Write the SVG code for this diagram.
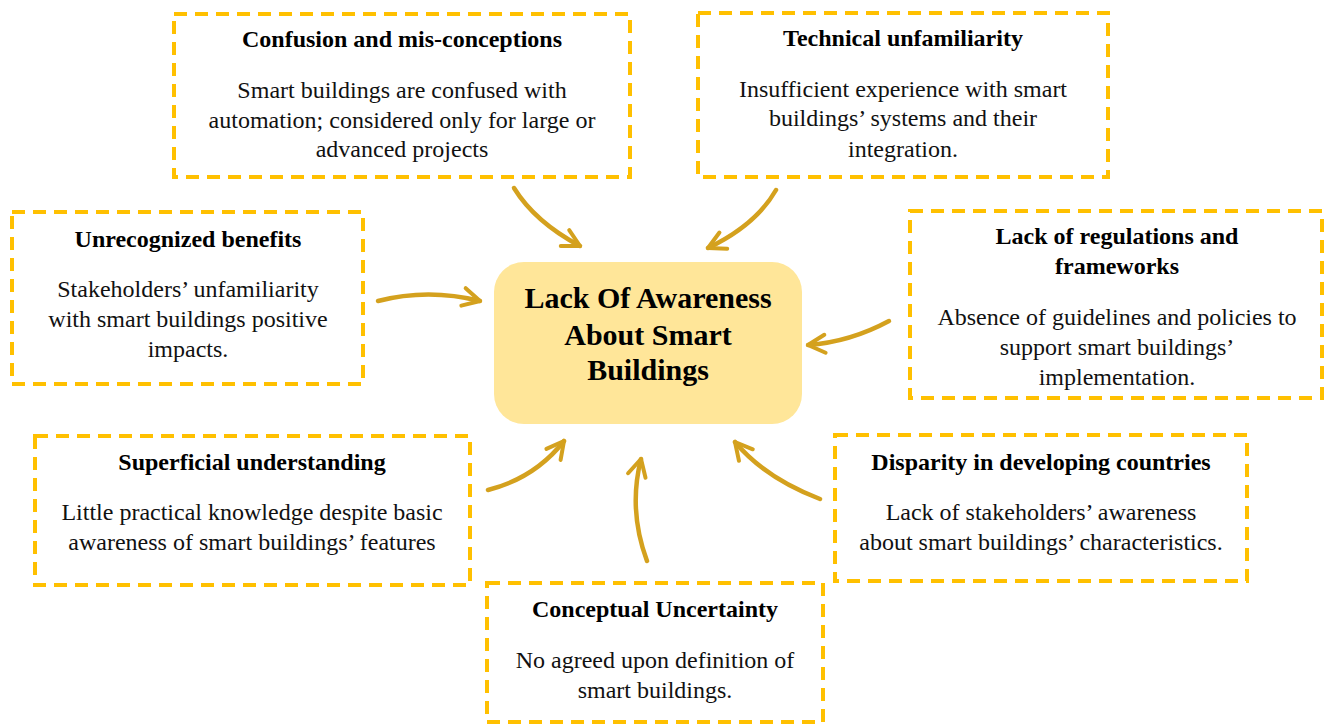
<svg xmlns="http://www.w3.org/2000/svg" width="1325" height="726" viewBox="0 0 1325 726">
  <defs>
    <style>
      .box { fill: #FFFFFF; stroke: #FFC000; stroke-width: 4; stroke-dasharray: 13 8; }
      .title { font-family: 'Liberation Serif', serif; font-weight: bold; font-size: 24px; fill: #000; text-anchor: middle; }
      .body { font-family: 'Liberation Serif', serif; font-size: 24px; fill: #111; text-anchor: middle; }
      .core { font-family: 'Liberation Serif', serif; font-weight: bold; font-size: 30px; fill: #000; text-anchor: middle; }
      .link { fill: none; stroke: #D4A11E; stroke-width: 4.5; stroke-linecap: round; marker-end: url(#head); }
    </style>
    <marker id="head" viewBox="-20 -12 24 24" refX="0" refY="0" markerWidth="24" markerHeight="24" markerUnits="userSpaceOnUse" orient="auto">
      <path d="M-17,-9 L0,0 L-17,9" fill="none" stroke="#D4A11E" stroke-width="4" stroke-linecap="round" stroke-linejoin="round"/>
    </marker>
  </defs>

  <rect width="1325" height="726" fill="#FFFFFF"/>

  <!-- curved connectors pointing at the central topic -->
  <g id="connectors">
    <path class="link" d="M514,188 Q535,222 580,246"/>
    <path class="link" d="M776,190 Q756,225 708,248"/>
    <path class="link" d="M378,301 Q428,288 480,301"/>
    <path class="link" d="M889,321 Q850,342 808,345"/>
    <path class="link" d="M488,490 Q535,478 564,441"/>
    <path class="link" d="M647,561 Q628,510 641,459"/>
    <path class="link" d="M820,499 Q765,478 735,442"/>
  </g>

  <g id="central">
    <rect x="494" y="262" width="308" height="162" rx="30" ry="30" fill="#FFE699"/>
    <text class="core" x="648" y="308">Lack Of Awareness</text>
    <text class="core" x="648" y="345">About Smart</text>
    <text class="core" x="648" y="380">Buildings</text>
  </g>

  <g id="confusion">
    <rect class="box" x="174" y="14" width="456" height="163"/>
    <text class="title" x="402" y="47">Confusion and mis-conceptions</text>
    <text class="body" x="402" y="98">Smart buildings are confused with</text>
    <text class="body" x="402" y="128">automation; considered only for large or</text>
    <text class="body" x="402" y="157">advanced projects</text>
  </g>

  <g id="technical">
    <rect class="box" x="698" y="13" width="410" height="164"/>
    <text class="title" x="903" y="46">Technical unfamiliarity</text>
    <text class="body" x="903" y="97">Insufficient experience with smart</text>
    <text class="body" x="903" y="126">buildings’ systems and their</text>
    <text class="body" x="903" y="157">integration.</text>
  </g>

  <g id="unrecognized">
    <rect class="box" x="12" y="212" width="351" height="172"/>
    <text class="title" x="188" y="247">Unrecognized benefits</text>
    <text class="body" x="188" y="297">Stakeholders’ unfamiliarity</text>
    <text class="body" x="188" y="327">with smart buildings positive</text>
    <text class="body" x="188" y="357">impacts.</text>
  </g>

  <g id="regulations">
    <rect class="box" x="910" y="211" width="412" height="187"/>
    <text class="title" x="1117" y="244">Lack of regulations and</text>
    <text class="title" x="1117" y="274">frameworks</text>
    <text class="body" x="1117" y="325">Absence of guidelines and policies to</text>
    <text class="body" x="1117" y="355">support smart buildings’</text>
    <text class="body" x="1117" y="385">implementation.</text>
  </g>

  <g id="superficial">
    <rect class="box" x="35" y="436" width="435" height="149"/>
    <text class="title" x="252" y="470">Superficial understanding</text>
    <text class="body" x="252" y="520">Little practical knowledge despite basic</text>
    <text class="body" x="252" y="550">awareness of smart buildings’ features</text>
  </g>

  <g id="disparity">
    <rect class="box" x="835" y="435" width="412" height="146"/>
    <text class="title" x="1041" y="470">Disparity in developing countries</text>
    <text class="body" x="1041" y="520">Lack of stakeholders’ awareness</text>
    <text class="body" x="1041" y="550">about smart buildings’ characteristics.</text>
  </g>

  <g id="conceptual">
    <rect class="box" x="487" y="583" width="336" height="139"/>
    <text class="title" x="655" y="617">Conceptual Uncertainty</text>
    <text class="body" x="655" y="668">No agreed upon definition of</text>
    <text class="body" x="655" y="698">smart buildings.</text>
  </g>
</svg>
